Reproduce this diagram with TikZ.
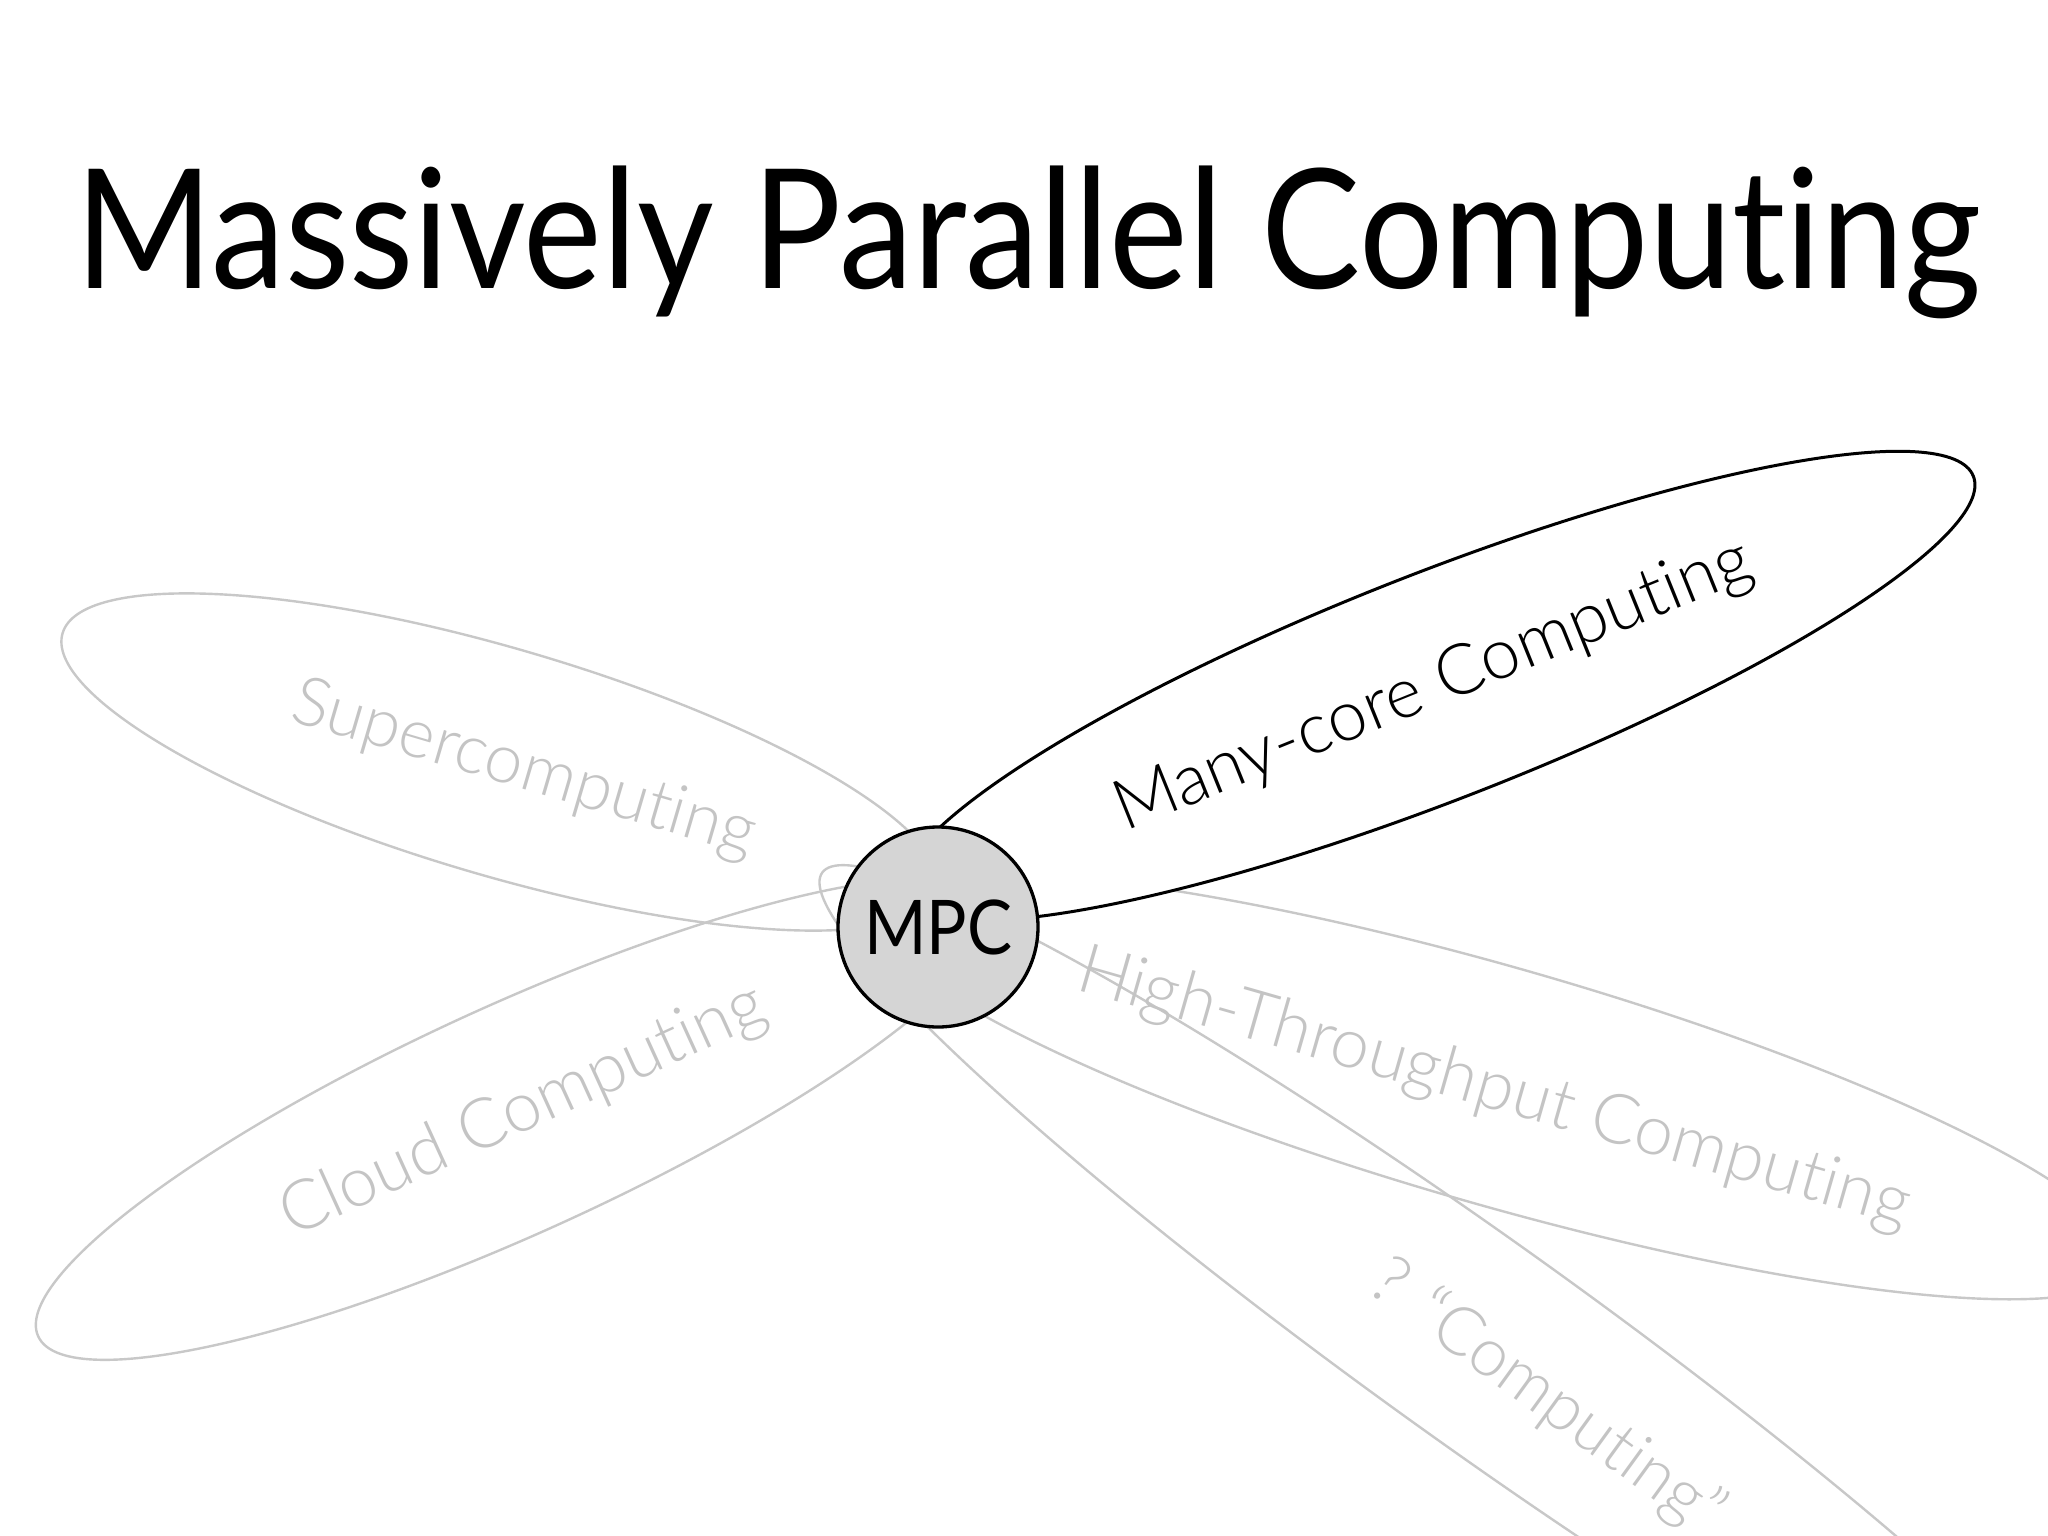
\documentclass[tikz,border=0pt]{standalone}
\usepackage{fontspec}
\setmainfont{Lato}[Ligatures={NoCommon}]
\newfontfamily\lightfont{Lato Light}[Ligatures={NoCommon}]
\usetikzlibrary{shapes.geometric}
\definecolor{lobegray}{RGB}{200,200,200}
\definecolor{labelgray}{RGB}{196,196,196}
\definecolor{hubfill}{RGB}{213,213,213}
\tikzset{
  lobe/.style={ellipse, draw=lobegray, line width=2.4pt, inner sep=0pt},
  mainlobe/.style={ellipse, draw=black, fill=white, line width=3pt, inner sep=0pt},
  hub/.style={circle, draw=black, fill=hubfill, line width=3.3pt, minimum size=200pt, inner sep=0pt},
  lobelabel/.style={anchor=base west, inner sep=0pt, text=labelgray, font=\lightfont},
  mainlabel/.style={anchor=base west, inner sep=0pt, text=black, font=\lightfont},
}
\begin{document}
\begin{tikzpicture}[x=1pt,y=-1pt]
\path[use as bounding box] (0,0) rectangle (2048,1536);
\fill[white] (0,0) rectangle (2048,1536);
\clip (0,0) rectangle (2048,1536);
% title
\node[anchor=base west, inner sep=0pt] (title) at (75,288) {\resizebox{1904pt}{!}{\scalebox{1}[1.12]{Massively Parallel Computing}}};
% grey lobes
\node[lobe, minimum width=912pt, minimum height=227pt, rotate=-16.4] (super) at (500,762) {};
\node[lobe, minimum width=1048pt, minimum height=228pt, rotate=24.5] (cloud) at (515,1119) {};
\node[lobe, minimum width=1306pt, minimum height=238pt, rotate=-16.0] (htc) at (1497,1086) {};
\node[lobe, minimum width=1618pt, minimum height=206pt, rotate=-35.6] (qcomp) at (1480,1343.5) {};
% black lobe
\node[mainlobe, minimum width=1150pt, minimum height=226pt, rotate=21.4] (many) at (1438,686) {};
% hub
\node[hub] (mpc) at (938,927) {\resizebox{148pt}{!}{\scalebox{1}[1.12]{MPC}}};
% labels
\node[mainlabel, rotate=22] (manylabel) at (1125,832) {\resizebox{680pt}{!}{Many-core Computing}};
\node[lobelabel, rotate=-16.4] (superlabel) at (288,720) {\resizebox{480pt}{!}{Supercomputing}};
\node[lobelabel, rotate=24.5] (cloudlabel) at (292,1238) {\resizebox{525pt}{!}{Cloud Computing}};
\node[lobelabel, rotate=-16] (htclabel) at (1074,989) {\resizebox{862pt}{!}{High-Throughput Computing}};
\node[lobelabel, rotate=-36] (qlabel) at (1365,1290) {\resizebox{420pt}{!}{? “Computing”}};
\end{tikzpicture}
\end{document}
